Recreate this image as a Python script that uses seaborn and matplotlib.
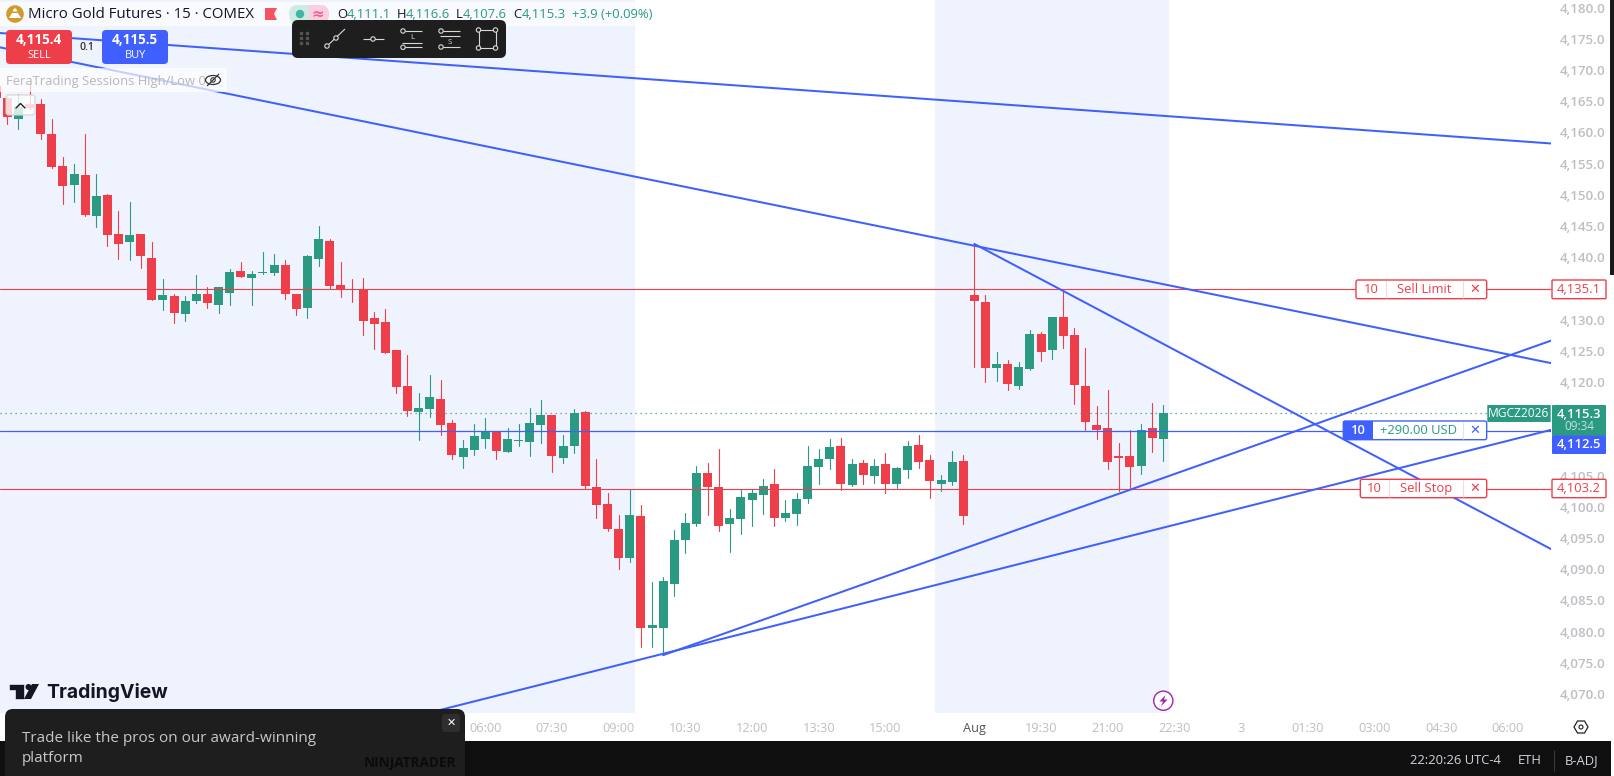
import numpy as np
import pandas as pd
import matplotlib
matplotlib.use("Agg")
import matplotlib.pyplot as plt
from matplotlib.patches import FancyBboxPatch, Circle, Polygon, Rectangle, Ellipse
from matplotlib.transforms import ScaledTranslation
import seaborn as sns

# 15 min bars, first one is cut off by the left edge
opens = [4167.7,4165.8,4162.4,4164.8,4164.8,4160.0,4154.9,4151.8,4153.4,4146.9,4150.2,4144.0,4142.7,4144.0,4140.1,
         4133.4,4134.1,4131.2,4133.3,4134.4,4132.6,4134.5,4138.1,4136.9,4137.7,4137.7,4139.0,4134.4,4132.1,4140.0,
         4142.9,4135.8,4135.2,4135.2,4130.5,4129.9,4125.4,4119.6,4115.5,4116.0,4117.5,4113.7,4108.2,4109.4,4111.1,
         4112.3,4109.1,4110.8,4110.7,4113.4,4115.0,4108.1,4110.0,4115.5,4103.5,4100.7,4096.7,4092.1,4098.8,4080.9,
         4080.9,4087.9,4095.0,4097.5,4105.7,4103.5,4097.5,4098.3,4101.4,4102.2,4103.9,4098.5,4099.1,4101.5,4106.7,
         4107.9,4110.0,4103.8,4107.3,4105.2,4107.1,4103.9,4106.2,4110.2,4107.8,4103.9,4104.3,4107.6,4134.2,4133.1,
         4122.5,4123.2,4119.6,4122.4,4128.0,4125.4,4130.7,4127.8,4119.6,4113.4,4112.9,4108.4,4108.4,4106.8,4112.9,4111.1]
highs = [4168.0,4165.9,4166.4,4168.2,4165.6,4162.4,4156.3,4155.2,4160.0,4153.6,4150.4,4147.7,4149.1,4144.0,4142.7,
         4136.8,4134.4,4134.1,4137.4,4135.5,4135.5,4138.4,4139.5,4138.1,4141.1,4140.8,4139.8,4134.4,4140.6,4145.3,
         4143.2,4139.5,4136.8,4136.9,4131.5,4132.0,4125.4,4124.6,4118.5,4121.4,4120.6,4114.2,4111.0,4113.5,4114.5,
         4112.4,4112.9,4113.5,4116.1,4117.4,4115.0,4111.8,4116.0,4115.6,4107.9,4102.5,4099.0,4103.1,4100.6,4088.2,
         4089.0,4096.6,4099.3,4106.8,4107.3,4109.5,4099.9,4103.1,4103.1,4104.7,4106.3,4101.4,4102.5,4110.0,4109.5,
         4111.1,4111.3,4107.9,4107.8,4107.9,4108.9,4106.7,4110.8,4111.8,4108.6,4105.4,4109.2,4108.6,4142.4,4134.2,
         4125.1,4123.8,4123.5,4128.6,4128.3,4130.7,4135.0,4128.9,4125.7,4116.4,4119.0,4110.5,4112.6,4113.5,4116.9,4116.6]
lows = [4165.8,4161.6,4160.8,4164.0,4159.2,4154.6,4148.8,4149.1,4146.9,4145.1,4142.1,4140.0,4139.8,4138.5,4133.4,
        4131.8,4129.7,4130.0,4132.9,4132.1,4131.3,4132.6,4137.1,4132.6,4137.6,4137.4,4133.6,4131.0,4130.5,4138.9,
        4135.2,4133.9,4133.1,4127.8,4125.6,4124.9,4118.5,4114.8,4111.0,4114.7,4111.8,4107.9,4106.5,4108.6,4109.7,
        4107.9,4109.1,4110.0,4108.4,4110.5,4105.9,4107.3,4108.9,4103.3,4098.5,4096.4,4090.3,4091.4,4077.8,4077.8,
        4076.5,4086.0,4092.9,4097.2,4099.0,4096.4,4093.0,4095.9,4097.2,4099.1,4097.2,4098.0,4097.4,4100.9,4103.9,
        4106.3,4103.0,4103.6,4103.9,4104.1,4102.5,4103.3,4104.9,4106.5,4101.7,4102.8,4103.8,4097.5,4122.7,4120.3,
        4120.4,4119.0,4119.2,4122.2,4123.6,4124.0,4125.7,4116.8,4112.6,4111.1,4106.3,4102.8,4103.1,4105.5,4109.1,4107.6]
closes = [4165.8,4162.7,4164.3,4164.2,4160.0,4154.7,4151.7,4153.6,4147.0,4150.1,4143.8,4142.4,4143.8,4140.5,4133.4,
          4134.2,4131.3,4133.3,4134.4,4132.9,4135.5,4137.9,4137.1,4137.6,4137.9,4139.0,4134.4,4132.0,4140.5,4143.2,
          4135.7,4135.2,4135.0,4130.1,4129.6,4124.9,4119.5,4115.6,4116.1,4117.9,4113.4,4108.6,4109.7,4111.6,4112.4,
          4109.2,4111.1,4111.0,4113.7,4115.0,4108.4,4110.0,4115.3,4103.6,4100.6,4096.7,4092.1,4099.0,4080.9,4081.3,
          4088.4,4095.0,4097.7,4105.7,4103.5,4097.2,4098.5,4101.8,4102.5,4103.6,4098.5,4099.3,4101.5,4106.8,4107.9,
          4109.9,4103.9,4107.1,4105.4,4106.8,4103.9,4106.5,4110.0,4107.5,4104.4,4104.6,4107.5,4098.8,4133.2,4122.5,
          4123.2,4120.0,4122.7,4128.0,4125.1,4130.7,4127.6,4119.8,4113.9,4112.6,4107.5,4108.1,4106.7,4112.6,4111.3,4115.3]
bar_index = list(range(-1, 105))

sell_limit = 4135.1
sell_stop = 4103.2
position_price = 4112.5
last_price = 4115.3

# trend lines: start bar, start price, end bar, end price
trend_names = ["a", "a", "b", "b", "c", "c", "d", "d", "e", "e"]
trend_bars = [-0.66, 138.88, -0.66, 138.88, 87, 138.88, 59, 138.88, 30, 138.88]
trend_prices = [4176.2, 4158.5, 4173.9, 4123.3, 4142.4, 4093.5, 4076.5, 4126.9, 4063.7, 4112.6]

price_ticks = [4070, 4075, 4080, 4085, 4090, 4095, 4100, 4105, 4120, 4125, 4130, 4140, 4145, 4150,
               4155, 4160, 4165, 4170, 4175, 4180]
time_ticks = [43, 49, 55, 61, 67, 73, 79, 87, 93, 99, 105, 111, 117, 123, 129, 135]
time_labels = ["06:00", "07:30", "09:00", "10:30", "12:00", "13:30", "15:00", "Aug", "19:30", "21:00",
               "22:30", "3", "01:30", "03:00", "04:30", "06:00"]
sessions = [(-1.0, 56.47), (83.46, 104.51)]

GREEN = "#2b9a82"
RED = "#ee3e4a"
BLUE = "#3f60ff"
GREY = "#bdbfc4"
DARK = "#1e1e1e"
W, H = 1614, 776

sns.set_theme(style="white")
plt.rcParams["font.family"] = ["Open Sans", "DejaVu Sans"]

fig = plt.figure(figsize=(W / 100, H / 100), dpi=100, facecolor="white")
ax = fig.add_axes([0, (H - 713) / H, 1551 / W, 713 / H])

for a, b in sessions:
    ax.axvspan(a, b, color="#eef3fe", lw=0, zorder=0)

df = pd.DataFrame({"bar": bar_index, "o": opens, "h": highs, "l": lows, "c": closes})
df["side"] = np.where(df["c"] >= df["o"], "up", "down")
wicks = df.melt(id_vars=["bar", "side"], value_vars=["h", "l"], value_name="price")
sns.lineplot(data=wicks, x="bar", y="price", units="bar", estimator=None, hue="side",
             palette={"up": GREEN, "down": RED}, lw=0.8, legend=False, ax=ax, zorder=2)
ax.bar(df["bar"], (df["c"] - df["o"]).abs(), bottom=df[["o", "c"]].min(axis=1), width=0.81,
       color=df["side"].map({"up": GREEN, "down": RED}), lw=0, zorder=3)

ax.plot([-0.66, 133.1], [last_price, last_price], color="#4f8f83", lw=0.9, ls=(0, (1, 3)), zorder=4)
ax.axhline(sell_limit, color=RED, lw=0.8, zorder=4)
ax.axhline(sell_stop, color=RED, lw=0.8, zorder=4)
ax.axhline(position_price, color=BLUE, lw=0.9, zorder=4)

trends = pd.DataFrame({"name": trend_names, "bar": trend_bars, "price": trend_prices})
sns.lineplot(data=trends, x="bar", y="price", units="name", estimator=None, color=BLUE, lw=1.45,
             legend=False, ax=ax, zorder=5)

ax.set_xlim(-0.66, 138.88)
ax.set_ylim(4067.23, 4181.49)
ax.yaxis.tick_right()
ax.set_yticks(price_ticks)
ax.set_yticklabels([f"{p:,.1f}" for p in price_ticks], color=GREY, fontsize=9.6, fontweight="semibold")
ax.set_xticks(time_ticks)
ax.set_xticklabels(time_labels, color=GREY, fontsize=9.2)
ax.get_xticklabels()[7].set_color("#555555")
ax.tick_params(axis="both", length=0)
ax.tick_params(axis="y", pad=6.5)
ax.tick_params(axis="x", pad=6.7)
for t in ax.get_yticklabels():
    t.set_transform(t.get_transform() + ScaledTranslation(0, 1.7 / 100, fig.dpi_scale_trans))
ax.set_xlabel("")
ax.set_ylabel("")
for s in ax.spines.values():
    s.set_visible(False)

# screen furniture drawn in pixel coordinates on top of the chart
ui = fig.add_axes([0, 0, 1, 1], zorder=5)
ui.set_xlim(0, W)
ui.set_ylim(H, 0)
ui.axis("off")
ui.patch.set_alpha(0)


def box(x0, y0, x1, y1, r=0, fc="white", ec="none", lw=1.0, alpha=None, z=6):
    p = FancyBboxPatch((x0, y0), x1 - x0, y1 - y0, boxstyle=f"round,pad=0,rounding_size={r}",
                       fc=fc, ec=ec, lw=lw, alpha=alpha, zorder=z)
    ui.add_patch(p)


def label(x, y, s, px=12.0, color="#333333", ha="center", weight="normal", z=9, **kw):
    ui.text(x, y, s, fontsize=px * 0.72, color=color, ha=ha, va="center", fontweight=weight, zorder=z, **kw)


def seg(x0, y0, x1, y1, color="#d8d8d8", lw=0.8, z=8):
    ui.plot([x0, x1], [y0, y1], color=color, lw=lw, zorder=z, solid_capstyle="butt")


def ring(x, y, r=2.2, ec="#d8d8d8", fc=DARK, lw=0.8, z=9):
    ui.add_patch(Circle((x, y), r, fc=fc, ec=ec, lw=lw, zorder=z))


# bottom bar and window edge
ui.add_patch(Rectangle((0, 741), 1611, 35, fc="#0f0f0f", ec="none", zorder=6))
ui.add_patch(Rectangle((1610, 0), 4, 275, fc="#1a1a1a", ec="none", zorder=6))
label(1410, 761, "22:20:26 UTC-4", 13, "#d1d4dc", ha="left")
label(1518, 761, "ETH", 13, "#d1d4dc", ha="left")
seg(1553.5, 750, 1553.5, 771, color="#3a3a3a", lw=0.8)
label(1565, 761, "B-ADJ", 13, "#d1d4dc", ha="left")
ui.add_patch(Polygon([(1574, 727), (1577.5, 721), (1584.5, 721), (1588, 727), (1584.5, 733), (1577.5, 733)],
                     fc="white", ec="#222222", lw=0.9, zorder=8))
ring(1581, 727, 2.0, ec="#222222", fc="white")

# purple marker
ui.add_patch(Circle((1163.3, 700.7), 9.6, fc="white", ec="#9c27b0", lw=1.0, zorder=8))
ui.add_patch(Polygon([(1165.5, 695), (1159.5, 701.5), (1163, 701.5), (1161, 706.5), (1167.5, 699.5), (1164, 699.5)],
                     fc="#9c27b0", ec="none", zorder=9))

# order lines
for top, bottom, left, sep, txt in [(280, 298.7, 1356, 1385.7, "Sell Limit"), (479.3, 497.7, 1360.3, 1389.3, "Sell Stop")]:
    mid = (top + bottom) / 2
    box(left, top, 1486.7, bottom, 2, "white", RED, 1.0)
    seg(sep, top + 1, sep, bottom - 1, "#f6d8da", 0.8)
    seg(1462.7, top + 1, 1462.7, bottom - 1, "#f6d8da", 0.8)
    label((left + sep) / 2, mid, "10", 13, RED)
    label((sep + 1462.7) / 2, mid, txt, 13, RED)
    label(1474.5, mid, "\u2715", 13, RED, family="DejaVu Sans")
    seg(1486.7, mid, 1551, mid, RED)
    box(1552, top, 1606, bottom, 1, "white", RED, 1.0)
    label(1579, mid, "4,135.1" if top < 300 else "4,103.2", 13, RED)

box(1343.3, 421, 1486.7, 439.7, 2, "white", BLUE, 1.0)
ui.add_patch(Rectangle((1343.3, 421), 29.4, 18.7, fc=BLUE, ec="none", zorder=7))
seg(1462.7, 422, 1462.7, 439, "#dbe3ff", 0.8)
label(1358, 430.5, "10", 13, "white", weight="semibold")
label(1418, 430.5, "+290.00 USD", 13, GREEN)
label(1474.5, 430.5, "\u2715", 13, BLUE, family="DejaVu Sans")

box(1487.3, 405, 1550.7, 422, 0, GREEN)
label(1519, 413.5, "MGCZ2026", 12, "white")
box(1552, 405, 1606, 436, 1, GREEN)
label(1579, 414, "4,115.3", 13, "white", weight="semibold")
label(1579, 427, "09:34", 11.8, "#bfe3da")
box(1552, 435.5, 1606, 454, 1, BLUE)
label(1579, 444.5, "4,112.5", 13, "white", weight="semibold")

# header legend
box(0, 2, 655, 26, 0, "white", alpha=0.6, z=6)
ui.add_patch(Circle((15, 14), 8.8, fc="#d09a2c", ec="none", zorder=7))
ui.add_patch(Polygon([(9, 18), (12, 13), (18, 13), (21, 18)], fc="white", ec="none", zorder=8))
ui.add_patch(Polygon([(12.5, 11.5), (14, 8.5), (16, 8.5), (17.5, 11.5)], fc="white", ec="none", zorder=8))
label(28, 14.5, "Micro Gold Futures \u00b7 15 \u00b7 COMEX", 15, "#131722", ha="left")
ui.add_patch(Polygon([(265, 8), (277, 8), (274, 14), (277, 20), (265, 20)], fc="#f7525f", ec="none", zorder=8))
box(289, 5, 329, 23, 9, "#cdeae4")
box(309, 5, 329, 23, 9, "#fbcfe0")
ui.add_patch(Rectangle((309, 5), 8, 18, fc="#fbcfe0", ec="none", zorder=6))
ui.add_patch(Circle((300, 14), 4.2, fc="#3fb6a0", ec="none", zorder=8))
label(318, 14, "\u2248", 15, "#f06292", weight="bold", family="DejaVu Sans")
for x, s, c in [(337, "O", "#131722"), (347, "4,111.1", GREEN), (397, "H", "#131722"), (406, "4,116.6", GREEN),
                (456, "L", "#131722"), (463, "4,107.6", GREEN), (513, "C", "#131722"), (521.5, "4,115.3", GREEN),
                (572, "+3.9 (+0.09%)", GREEN)]:
    label(x, 14.5, s, 13, c, ha="left")

# sell / buy
box(6, 30, 72, 64, 4, RED)
label(39, 40, "4,115.4", 13.5, "white", weight="bold")
label(39, 55, "SELL", 11, "white")
box(102, 30, 168, 64, 4, BLUE)
label(135, 40, "4,115.5", 13.5, "white", weight="bold")
label(135, 55, "BUY", 11, "white")
label(87, 47, "0.1", 10.5, "#333333", weight="semibold")

# indicator row
box(0, 68, 227, 92, 0, "white", alpha=0.7, z=6)
label(6, 81.5, "FeraTrading Sessions High/Low 0", 13, "#b8b8b8", ha="left")
ui.add_patch(Ellipse((213, 80), 15, 9, fc="none", ec="#333333", lw=0.9, zorder=9))
ring(213, 80, 2.2, ec="#333333", fc="white")
seg(207, 86, 219, 74, "#333333", 0.9, z=10)
box(6, 95, 35, 115, 3, "white", "#d4d4d4", 1.0, alpha=0.8, z=6)
ui.plot([16, 20.5, 25], [108, 103.5, 108], color="#222222", lw=1.0, zorder=9)

# drawing toolbar
box(292, 20, 506, 58, 6, DARK)
for dx in [301, 307]:
    for dy in [33, 38, 43]:
        ui.plot([dx], [dy], "s", ms=1.6, color="#555555", zorder=8)
seg(325, 48, 345, 29)
ring(327, 46)
ring(336, 38)
seg(363, 39, 384, 39)
ring(373, 39)
seg(401, 31, 422, 31)
ring(403, 31)
seg(402, 43, 422, 43)
label(412, 37.5, "L", 8, "#d8d8d8")
seg(401, 47.3, 422, 47.3)
ring(403, 47.3)
seg(440, 31, 460, 31)
ring(441, 31)
seg(440, 36, 460, 36)
label(450, 42, "S", 8, "#d8d8d8")
seg(440, 47, 460, 47)
ring(441, 47)
ui.add_patch(Rectangle((478.5, 30), 17, 18, fc="none", ec="#d8d8d8", lw=0.8, zorder=8))
for cx, cy in [(478.5, 30), (495.5, 30), (478.5, 48), (495.5, 48)]:
    ring(cx, cy)

# logo
ui.add_patch(Polygon([(9, 684), (24, 684), (24, 699), (15, 699), (15, 690), (9, 690)], fc="#131722", ec="white",
                     lw=0.4, zorder=8))
ui.add_patch(Circle((28.5, 687), 3, fc="#131722", ec="none", zorder=8))
ui.add_patch(Polygon([(32, 684), (39, 684), (31, 699), (24, 699)], fc="#131722", ec="none", zorder=8))
label(46, 692, "TradingView", 19.4, "#131722", ha="left", weight="bold", family="Inter")

# popup
box(5, 709, 465, 800, 8, DARK, z=10)
box(442, 714, 460, 732, 3, "#2e2e2e", z=11)
label(451, 723, "\u2715", 11, "white", z=12, family="DejaVu Sans")
label(22, 738, "Trade like the pros on our award-winning", 15.3, "#c8c8c8", ha="left", z=12)
label(22, 759, "platform", 15.3, "#c8c8c8", ha="left", z=12)
label(456, 763, "NINJATRADER", 13.6, "#0b0b0b", ha="right", weight="bold", z=12)

fig.savefig("out.png", dpi=100, facecolor="white")
